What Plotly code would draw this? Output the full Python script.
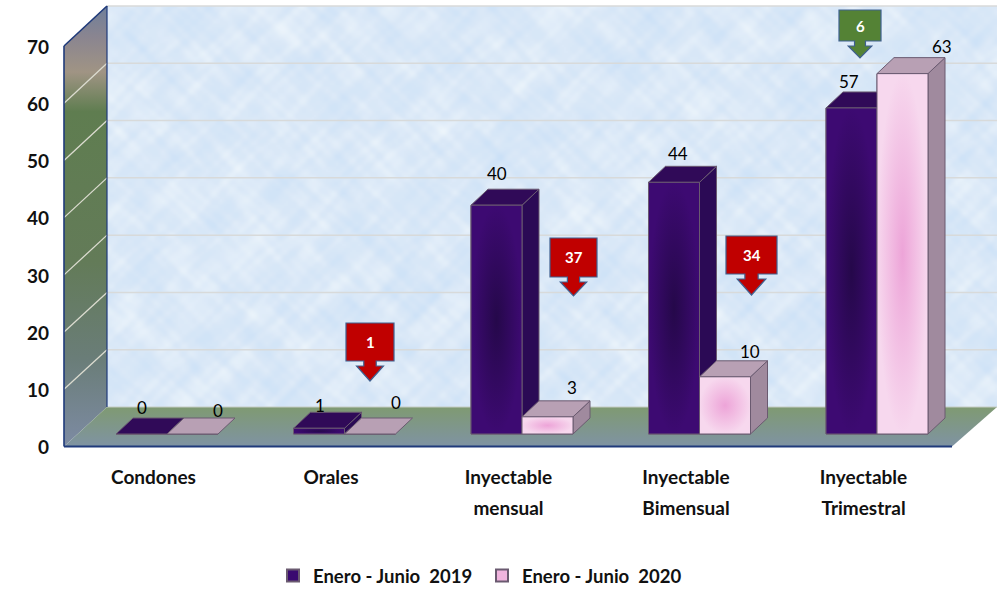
import base64, struct, zlib
import numpy as np
import plotly.graph_objects as go

# ---------- data ----------
categories_line1 = ["Condones", "Orales", "Inyectable", "Inyectable", "Inyectable"]
categories_line2 = ["", "", "mensual", "Bimensual", "Trimestral"]
series_names = ["Enero - Junio  2019", "Enero - Junio  2020"]
values_2019 = [0, 1, 40, 44, 57]
values_2020 = [0, 0, 3, 10, 63]
y_ticks = [0, 10, 20, 30, 40, 50, 60, 70]
change_labels = ["1", "37", "34", "6"]

# ---------- page geometry (pixels -> axis units) ----------
W, H = 998, 590
GROUP_PX, FIRST_PX, BASE_PX, UNIT_PX = 177.5, 167.0, 434.0, 5.72
def X(p): return (p - FIRST_PX) / GROUP_PX
def Y(p): return (BASE_PX - p) / UNIT_PX
BW = 51 / GROUP_PX
DX, DY = 17 / GROUP_PX, 16 / UNIT_PX
LABEL_FONT = "Lato"
fig = go.Figure()

def poly(px_pts=None, pts=None, fill=None, line=None, lw=1, grad=None, ax=("x", "y")):
    if px_pts is not None:
        pts = [(X(a), Y(b)) for a, b in px_pts]
    xs = [p[0] for p in pts] + [pts[0][0]]
    ys = [p[1] for p in pts] + [pts[0][1]]
    kw = dict(x=xs, y=ys, mode="lines", fill="toself", showlegend=False, hoverinfo="skip",
              xaxis=ax[0], yaxis=ax[1], line=dict(color=line or "rgba(0,0,0,0)", width=lw if line else 0))
    if grad:
        kw["fillgradient"] = grad
    else:
        kw["fillcolor"] = fill
    fig.add_trace(go.Scatter(**kw))

def seg(a, b, color, lw=1.5, ax=("x", "y")):
    fig.add_trace(go.Scatter(x=[X(a[0]), X(b[0])], y=[Y(a[1]), Y(b[1])], mode="lines",
                             line=dict(color=color, width=lw), showlegend=False, hoverinfo="skip",
                             xaxis=ax[0], yaxis=ax[1]))

# ---------- decorative wall texture (deterministic mottling, not data) ----------
WALL_L, WALL_R, WALL_T, WALL_B = 107, 997, 6, 407
FRONT_L, FRONT_R, FRONT_T, FRONT_B = 64, 952, 46, 446.5

def wall_texture(w, h):
    yy, xx = np.mgrid[0:h, 0:w].astype(float)
    t = np.zeros((h, w))
    blobs = [(0.083, 0.117, 0.4, 1.3, 1.0), (0.191, 0.157, 2.1, 0.2, 0.9), (0.271, 0.337, 4.4, 3.3, 0.8),
             (0.431, 0.383, 1.7, 5.2, 0.7), (0.617, 0.523, 3.6, 0.9, 0.6), (0.733, 0.811, 5.5, 2.7, 0.5),
             (0.047, 0.059, 1.1, 4.1, 0.8), (0.929, 1.013, 0.3, 3.9, 0.35)]
    for fx, fy, px, py, a in blobs:
        t += a * np.sin(fx * xx + px + 1.1 * np.sin(0.13 * yy + py)) * np.sin(fy * yy + py + 1.1 * np.sin(0.11 * xx + px))
    t /= np.abs(t).max()
    t = t[..., None]
    lo, mid, hi = np.array([203, 225, 247.]), np.array([219, 233, 248.]), np.array([238, 246, 252.])
    rgb = np.where(t > 0, mid + (hi - mid) * t, mid + (lo - mid) * (-t))
    raw = b"".join(b"\x00" + row.tobytes() for row in rgb.astype(np.uint8))
    def chunk(tag, d):
        return struct.pack(">I", len(d)) + tag + d + struct.pack(">I", zlib.crc32(tag + d) & 0xffffffff)
    png = (b"\x89PNG\r\n\x1a\n" + chunk(b"IHDR", struct.pack(">IIBBBBB", w, h, 8, 2, 0, 0, 0))
           + chunk(b"IDAT", zlib.compress(raw, 9)) + chunk(b"IEND", b""))
    return "data:image/png;base64," + base64.b64encode(png).decode()

wall_image = dict(source=wall_texture(445, 200), xref="paper", yref="paper", x=WALL_L / W, y=1 - WALL_T / H,
                  sizex=(WALL_R - WALL_L) / W, sizey=(WALL_B - WALL_T) / H, sizing="stretch",
                  xanchor="left", yanchor="top", layer="below")

# ---------- side wall and floor ----------
poly(px_pts=[(FRONT_L, FRONT_T), (WALL_L, WALL_T), (WALL_L, WALL_B), (FRONT_L, FRONT_B)],
     grad=dict(type="vertical", colorscale=[[0, "#7d8ba3"], [0.2, "#6a7d78"], [0.42, "#637b58"], [0.76, "#5f7d50"],
                                            [0.85, "#a09484"], [0.93, "#8a8590"], [1, "#6f7f9a"]]))
poly(px_pts=[(FRONT_L, FRONT_B), (WALL_L, WALL_B), (WALL_R, WALL_B), (FRONT_R, FRONT_B)],
     grad=dict(type="vertical", colorscale=[[0, "#7f93a3"], [1, "#7f9a72"]]))

wall_unit = (WALL_B - WALL_T) / 70
for t in y_ticks[1:]:
    yb = WALL_B - t * wall_unit
    yf = FRONT_B - t * (FRONT_B - FRONT_T) / 70
    seg((WALL_L, yb), (WALL_R, yb), "#d8dada", 1.5)
    if t < 70:
        seg((FRONT_L, yf), (WALL_L, yb), "#dcdcd0", 1.3)
seg((WALL_L, WALL_B), (WALL_R, WALL_B), "#c6ccc4", 1.2)
seg((FRONT_L, FRONT_T), (WALL_L, WALL_T), "#1f3a7a", 1.6)
seg((FRONT_L, FRONT_T), (FRONT_L, FRONT_B), "#1f3a7a", 1.6)
seg((WALL_L, WALL_T), (WALL_L, WALL_B), "#1f3a7a", 1.2)
seg((FRONT_L, FRONT_B), (FRONT_R, FRONT_B), "#1f3a7a", 1.8)

# ---------- real bars (carry the data and the legend) ----------
idx = list(range(len(values_2019)))
fig.add_trace(go.Bar(x=idx, y=values_2019, name=series_names[0], xaxis="x2", yaxis="y2", hoverinfo="y",
                     marker=dict(color="#3a0a70", line=dict(color="#6a5a70", width=1))))
fig.add_trace(go.Bar(x=idx, y=values_2020, name=series_names[1], xaxis="x2", yaxis="y2", hoverinfo="y",
                     marker=dict(color="#f0b4de", line=dict(color="#6a5a70", width=1))))

# ---------- 3-D faces derived from the values ----------
EDGE = "#6a5a70"
FACES = [dict(front=[[0, "#25084a"], [1, "#3d0a72"]], side="#2b0a55", top="#300a58"),
         dict(front=[[0, "#eda4d8"], [1, "#f7d8ee"]], side="#a08a9e", top="#b8a0b4")]
A3 = ("x3", "y3")
for i in idx:
    for s, vals in enumerate((values_2019, values_2020)):
        v = vals[i]
        x0 = i - BW + s * BW
        x1 = x0 + BW
        st = FACES[s]
        if v > 0:
            poly(pts=[(x1, 0), (x1 + DX, DY), (x1 + DX, v + DY), (x1, v)], fill=st["side"], line=EDGE, ax=A3)
        poly(pts=[(x0, v), (x1, v), (x1 + DX, v + DY), (x0 + DX, v + DY)], fill=st["top"], line=EDGE, ax=A3)
        if v > 0:
            poly(pts=[(x0, 0), (x1, 0), (x1, v), (x0, v)], grad=dict(type="radial", colorscale=st["front"]),
                 line=EDGE, ax=A3)

# ---------- value labels ----------
dx_2019 = [0, 1, 0, 4, -3]
dy_2019 = [27, 23, 32, 29, 26]
dx_2020 = [25, 26, 24, 25, 39]
dy_2020 = [24, 32, 29, 25, 27]
ann = []
for i in idx:
    for s, (vals, dxs, dys) in enumerate(((values_2019, dx_2019, dy_2019), (values_2020, dx_2020, dy_2020))):
        ann.append(dict(x=i - BW / 2 + s * BW, y=vals[i], xref="x3", yref="y3", text=str(vals[i]), showarrow=False,
                        xshift=dxs[i], yshift=dys[i], xanchor="center", yanchor="middle",
                        font=dict(family=LABEL_FONT, size=17, color="#000000")))

# ---------- change call-outs ----------
RED, GREEN, BORDER = "#c00000", "#548235", "#3f6090"
callouts = [(346, 394, 323, 361, 381, RED), (550, 597, 238, 277, 296, RED),
            (726, 777, 236, 274, 295, RED), (839, 881, 10, 41, 58, GREEN)]
shapes = []
for (x0, x1, y0, y1, tip, col), lab in zip(callouts, change_labels):
    c = (x0 + x1) / 2
    sw, hw = (x1 - x0) * 0.13, (x1 - x0) * 0.28
    neck = y1 + 5
    pts = [(x0, y0), (x1, y0), (x1, y1), (c + sw, y1), (c + sw, neck), (c + hw, neck), (c, tip),
           (c - hw, neck), (c - sw, neck), (c - sw, y1), (x0, y1)]
    path = "M " + " L ".join(f"{a / W:.5f} {1 - b / H:.5f}" for a, b in pts) + " Z"
    shapes.append(dict(type="path", path=path, xref="paper", yref="paper", fillcolor=col,
                       line=dict(color=BORDER, width=1.2), layer="above"))
    ann.append(dict(x=c / W, y=1 - (y0 + y1) / 2 / H, xref="paper", yref="paper", text=f"<b>{lab}</b>", showarrow=False,
                    xanchor="center", yanchor="middle", font=dict(family=LABEL_FONT, size=15, color="white")))

# ---------- axis tick helpers ----------
for ax, ay in (("x4", "y4"), ("x5", "y4")):
    fig.add_trace(go.Scatter(x=[None], y=[None], xaxis=ax, yaxis=ay, showlegend=False, hoverinfo="skip"))

hidden_x = dict(range=[X(0), X(W)], visible=False, domain=[0, 1], fixedrange=True)
hidden_y = dict(range=[Y(H), Y(0)], visible=False, domain=[0, 1], fixedrange=True)
lab_font = dict(family=LABEL_FONT, size=19, color="#111111", weight=700)
LAB_PX = 153.5
lab_range = [(0 - LAB_PX) / GROUP_PX, (W - LAB_PX) / GROUP_PX]
unit_front = (FRONT_B - FRONT_T) / 70
def cat_axis(text, top_px):
    return dict(overlaying="x", anchor="free", position=1 - top_px / H, range=lab_range, tickmode="array",
                tickvals=idx, ticktext=text, tickfont=lab_font, showgrid=False, zeroline=False, showline=False,
                ticks="", domain=[0, 1], side="bottom", fixedrange=True, automargin=False)

fig.update_layout(
    width=W, height=H, margin=dict(l=0, r=0, t=0, b=0, autoexpand=False), paper_bgcolor="white",
    plot_bgcolor="rgba(0,0,0,0)", images=[wall_image],
    barmode="group", bargap=1 - 2 * BW, bargroupgap=0, shapes=shapes, annotations=ann,
    xaxis=hidden_x, yaxis=hidden_y,
    xaxis2=dict(hidden_x, overlaying="x"), yaxis2=dict(hidden_y, overlaying="y"),
    xaxis3=dict(hidden_x, overlaying="x"), yaxis3=dict(hidden_y, overlaying="y"),
    xaxis4=cat_axis(categories_line1, 464), xaxis5=cat_axis(categories_line2, 495),
    yaxis4=dict(overlaying="y", anchor="free", position=49 / W, side="left", domain=[0, 1], fixedrange=True,
                range=[(FRONT_B + 1 - H) / unit_front, (FRONT_B + 1) / unit_front], tickmode="array", tickvals=y_ticks,
                tickfont=lab_font, showgrid=False, zeroline=False, showline=False, ticks="", automargin=False),
    legend=dict(orientation="h", x=273 / W, xanchor="left", y=1 - 557 / H, yanchor="top",
                font=dict(family=LABEL_FONT, size=18.5, color="#111111", weight=700), bgcolor="rgba(0,0,0,0)",
                itemsizing="constant", itemwidth=30, entrywidth=164, entrywidthmode="pixels"),
    hovermode="closest",
)
fig.write_html("out.html", post_script="document.body.style.margin='0';", config=dict(displayModeBar=False))
